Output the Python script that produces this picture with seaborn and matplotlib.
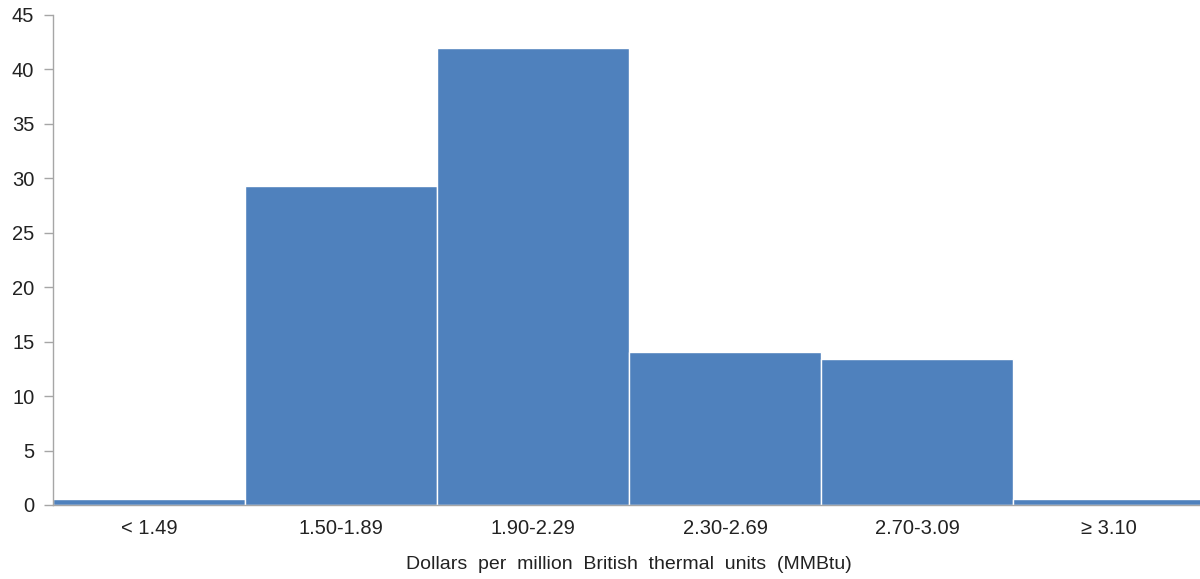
import matplotlib
matplotlib.use("Agg")
import matplotlib.pyplot as plt
import seaborn as sns
import numpy as np
import pandas as pd

bins = ["< 1.49", "1.50-1.89", "1.90-2.29", "2.30-2.69", "2.70-3.09", "\u2265 3.10"]
shares = [0.55, 29.3, 42.0, 14.05, 13.4, 0.55]
y_ticks = [0, 5, 10, 15, 20, 25, 30, 35, 40, 45]

sns.set_theme(style="white")
plt.rcParams['font.family'] = ['Liberation Sans', 'DejaVu Sans']

df = pd.DataFrame({"bin": bins, "share": shares})

fig = plt.figure(figsize=(12, 5.79), dpi=100)
ax = fig.add_axes([53 / 1200, 1 - 505 / 579, 1152 / 1200, 490 / 579])

sns.barplot(data=df, x="bin", y="share", color="#4F81BD", width=1.0,
            edgecolor="white", linewidth=1.0, saturation=1, ax=ax)

ax.set_xlim(-0.5, len(bins) - 0.5)
ax.set_ylim(0, 45)
ax.set_yticks(y_ticks)
ax.set_yticklabels([str(v) for v in y_ticks], fontsize=14.5, color="#222222")

# labels at bin centres, tick marks at bin edges
ax.set_xticks(np.arange(len(bins)))
ax.set_xticklabels(bins, fontsize=14.5, color="#222222")
ax.set_xticks(np.arange(len(bins) + 1) - 0.5, minor=True)
ax.tick_params(axis="x", which="major", length=0, pad=10)
ax.tick_params(axis="x", which="minor", length=5, width=1, color="#A6A6A6", direction="out")
ax.tick_params(axis="y", which="major", length=6.5, width=1, color="#A6A6A6", direction="out", pad=7, left=True)

for side in ["top", "right"]:
    ax.spines[side].set_visible(False)
for side in ["left", "bottom"]:
    ax.spines[side].set_color("#A6A6A6")
    ax.spines[side].set_linewidth(1)

ax.set_ylabel("")
ax.set_xlabel("Dollars  per  million  British  thermal  units  (MMBtu)", fontsize=14,
              color="#222222", labelpad=13)

fig.savefig("out.png", dpi=100)
